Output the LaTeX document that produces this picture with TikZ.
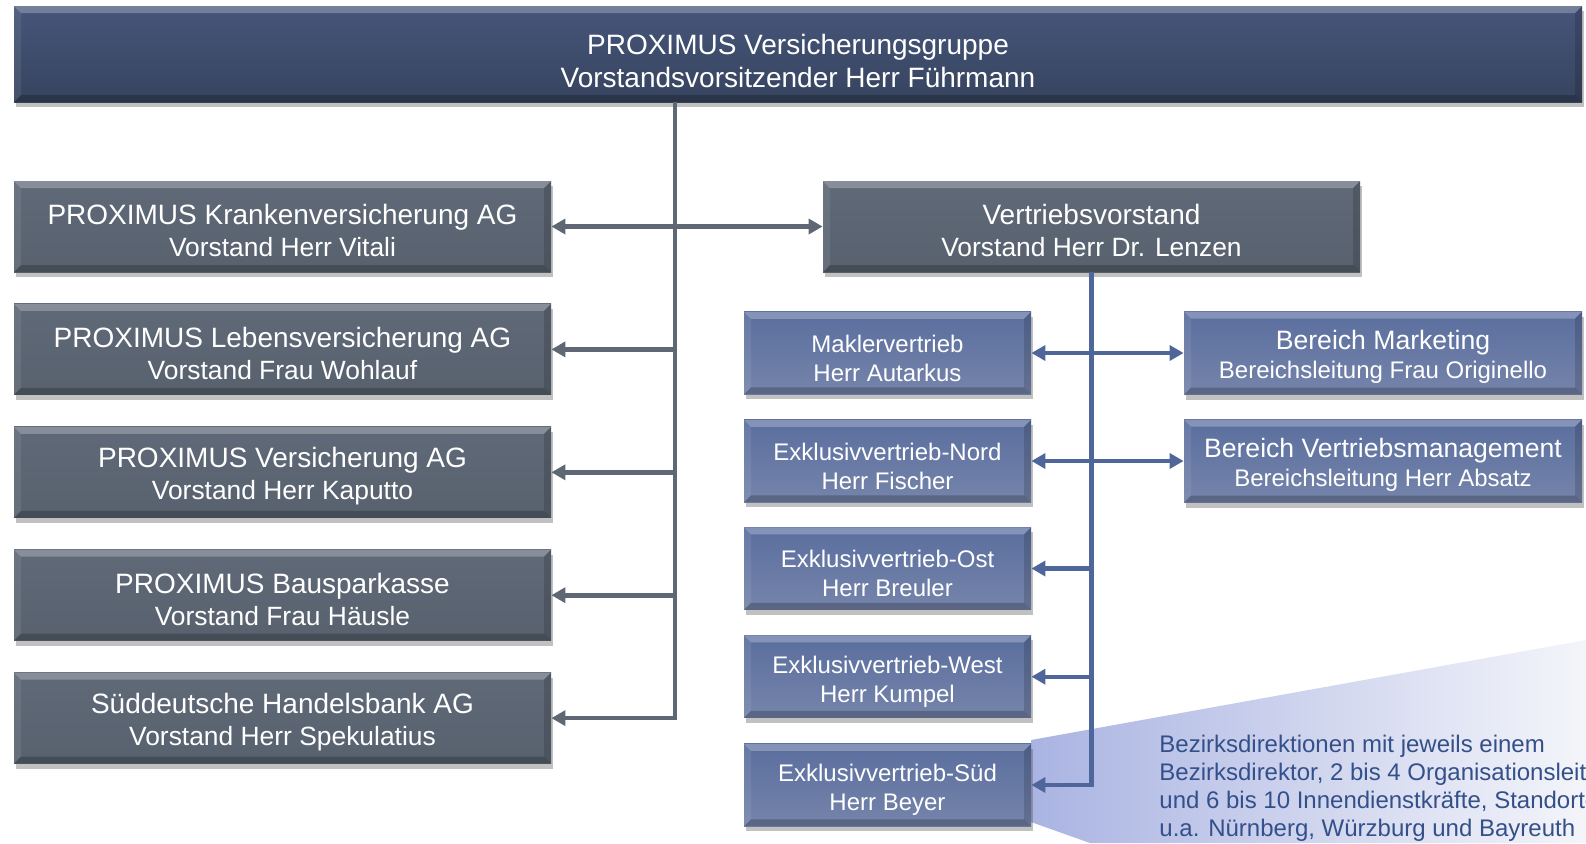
\documentclass[tikz,border=0pt]{standalone}
\usepackage{fontspec}
\setmainfont{Liberation Sans}
\usetikzlibrary{shadows,calc,arrows.meta}
\definecolor{navyT}{HTML}{46557A}
\definecolor{navyB}{HTML}{37445F}
\definecolor{grayT}{HTML}{5F6977}
\definecolor{grayB}{HTML}{58626F}
\definecolor{blueT}{HTML}{5A6E9E}
\definecolor{blueB}{HTML}{7584AA}
\definecolor{garr}{HTML}{5E6773}
\definecolor{barr}{HTML}{4E6699}
\definecolor{ctext}{HTML}{34508A}
\definecolor{cleft}{HTML}{AAB4E2}
\definecolor{cright}{HTML}{F4F5FA}
\newcommand\strutTop{\rule{0pt}{17.2pt}}
\newcommand\strutGray{\rule{0pt}{14.3pt}}
\newcommand\strutBlue{\rule{0pt}{13.75pt}}
\newcommand\strutRight{\rule{0pt}{13.7pt}}
\tikzset{
  bevel/.style={path picture={
    \coordinate (pnw) at (path picture bounding box.north west);
    \coordinate (pne) at (path picture bounding box.north east);
    \coordinate (psw) at (path picture bounding box.south west);
    \coordinate (pse) at (path picture bounding box.south east);
    \fill[white,opacity=0.25] (pnw) -- (pne) -- ($(pne)+(-3.5pt,-3.5pt)$) -- ($(pnw)+(3.5pt,-3.5pt)$) -- cycle;
    \fill[white,opacity=0.08] (pnw) -- ($(pnw)+(3.5pt,-3.5pt)$) -- ($(psw)+(3.5pt,3.5pt)$) -- (psw) -- cycle;
    \fill[black,opacity=0.15] (pne) -- (pse) -- ($(pse)+(-3.5pt,3.5pt)$) -- ($(pne)+(-3.5pt,-3.5pt)$) -- cycle;
    \fill[black,opacity=0.22] (psw) -- (pse) -- ($(pse)+(-3.5pt,3.5pt)$) -- ($(psw)+(3.5pt,3.5pt)$) -- cycle;
  }},
  basebox/.style={rectangle, inner sep=0pt, text=white, align=center, bevel,
    drop shadow={shadow xshift=1pt, shadow yshift=-2.5pt, opacity=0.35, fill=black!70}},
  topbox/.style={basebox, top color=navyT, bottom color=navyB, minimum width=784pt, minimum height=48pt,
    font=\fontsize{14}{16.5}\selectfont},
  graybox/.style={basebox, top color=grayT, bottom color=grayB, minimum width=268.5pt, minimum height=45.5pt,
    font=\fontsize{13.2}{16}\selectfont},
  bluebox/.style={basebox, top color=blueT, bottom color=blueB, minimum width=143.5pt, minimum height=41.25pt,
    font=\fontsize{12}{14.5}\selectfont},
  rbox/.style={basebox, top color=blueT, bottom color=blueB, minimum width=199pt, minimum height=41.5pt,
    font=\fontsize{12}{14.5}\selectfont},
  garrow/.style={draw=garr, line width=2.3pt, -{Triangle[length=7pt,width=7.5pt]}},
  barrow/.style={draw=barr, line width=2.1pt, -{Triangle[length=7pt,width=7.5pt]}},
}
\begin{document}
\begin{tikzpicture}[x=0.5pt,y=-0.5pt]
\useasboundingbox (0,0) rectangle (1586,843);
\begin{scope}
\clip (0,0) rectangle (1586,843);
% callout
\shade[left color=cleft, right color=cright] (1031,740) -- (1586,640) -- (1586,843) -- (1090,843) -- (1031,822) -- cycle;
\node[anchor=north west, align=left, text=ctext, font=\fontsize{12}{14}\selectfont, inner sep=0pt] (note) at (1159,735)
  {Bezirksdirektionen mit jeweils einem\\Bezirksdirektor, 2 bis 4 Organisationsleitern\\und 6 bis 10 Innendienstkräfte, Standorte\\u.a. Nürnberg, Würzburg und Bayreuth};

% top
\node[topbox] (top) at (798,54) {\strutTop PROXIMUS Versicherungsgruppe\\Vorstandsvorsitzender Herr Führmann};

% left column
\node[graybox] (L1) at (282.5,226.5) {{\fontsize{14}{16}\selectfont\strutGray PROXIMUS Krankenversicherung AG}\\Vorstand Herr Vitali};
\node[graybox] (L2) at (282.5,349.4) {{\fontsize{14}{16}\selectfont\strutGray PROXIMUS Lebensversicherung AG}\\Vorstand Frau Wohlauf};
\node[graybox] (L3) at (282.5,472.3) {{\fontsize{14}{16}\selectfont\strutGray PROXIMUS Versicherung AG}\\Vorstand Herr Kaputto};
\node[graybox] (L4) at (282.5,595.2) {{\fontsize{14}{16}\selectfont\strutGray PROXIMUS Bausparkasse}\\Vorstand Frau Häusle};
\node[graybox] (L5) at (282.5,718.1) {{\fontsize{14}{16}\selectfont\strutGray Süddeutsche Handelsbank AG}\\Vorstand Herr Spekulatius};

% Vertriebsvorstand
\node[graybox] (V) at (1091.5,226.5) {{\fontsize{14}{16}\selectfont\strutGray Vertriebsvorstand}\\Vorstand Herr Dr. Lenzen};

% blue column
\node[bluebox] (B1) at (887.5,353) {\strutBlue Maklervertrieb\\Herr Autarkus};
\node[bluebox] (B2) at (887.5,461) {\strutBlue Exklusivvertrieb-Nord\\Herr Fischer};
\node[bluebox] (B3) at (887.5,568.5) {\strutBlue Exklusivvertrieb-Ost\\Herr Breuler};
\node[bluebox] (B4) at (887.5,676.7) {\strutBlue Exklusivvertrieb-West\\Herr Kumpel};
\node[bluebox] (B5) at (887.5,785) {\strutBlue Exklusivvertrieb-Süd\\Herr Beyer};

% right boxes
\node[rbox] (R1) at (1383,353) {{\fontsize{13.3}{16}\selectfont\strutRight Bereich Marketing}\\Bereichsleitung Frau Originello};
\node[rbox] (R2) at (1383,461) {{\fontsize{13.3}{16}\selectfont\strutRight Bereich Vertriebsmanagement}\\Bereichsleitung Herr Absatz};

% gray connectors
\coordinate (gt) at (675,102);
\draw[garrow] (gt) |- (L5.east);
\draw[garrow] (L1.east -| gt) -- (L1.east);
\draw[garrow] (L2.east -| gt) -- (L2.east);
\draw[garrow] (L3.east -| gt) -- (L3.east);
\draw[garrow] (L4.east -| gt) -- (L4.east);
\draw[garrow] (L1.east -| gt) -- (V.west);

% blue connectors
\draw[barrow] (V.south) |- (B5.east);
\draw[barrow] (B1.east -| V.south) -- (B1.east);
\draw[barrow] (B2.east -| V.south) -- (B2.east);
\draw[barrow] (B3.east -| V.south) -- (B3.east);
\draw[barrow] (B4.east -| V.south) -- (B4.east);
\draw[barrow] (B1.east -| V.south) -- (R1.west);
\draw[barrow] (B2.east -| V.south) -- (R2.west);
\end{scope}
\end{tikzpicture}
\end{document}
